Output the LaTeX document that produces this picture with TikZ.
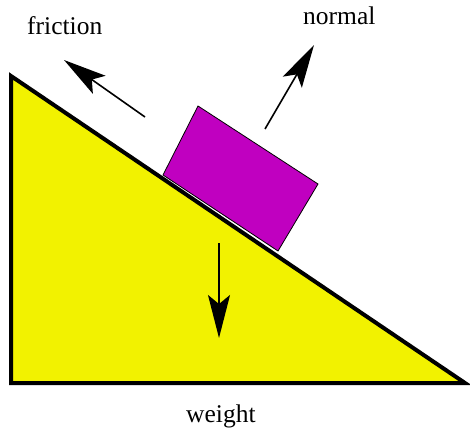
\documentclass[tikz,border=0pt]{standalone}
\usepackage{fontspec}
\setmainfont{Liberation Serif}
\usetikzlibrary{arrows.meta}
\definecolor{rampyellow}{RGB}{242,242,0}
\definecolor{blockmagenta}{RGB}{192,0,192}
\tikzset{
  ramp/.style={fill=rampyellow, draw=black, line width=4pt, line join=miter},
  block/.style={fill=blockmagenta, draw=black, line width=0.8pt},
  force/.style={draw=black, line width=1.6pt, -{Stealth[length=43pt, width=22pt, inset=9pt]}},
  lbl/.style={font=\fontsize{25.5}{30}\selectfont, inner sep=0pt, anchor=base west}
}
\begin{document}
\begin{tikzpicture}[x=1pt, y=-1pt]
\useasboundingbox (0,0) rectangle (470,430);
% ramp
\coordinate (rtop) at (11,76);
\coordinate (rbl) at (11,383);
\coordinate (rbr) at (465,383);
\draw[ramp] (rtop) -- (rbl) -- (rbr) -- cycle;
% block
\coordinate (ba) at (163,175);
\coordinate (bb) at (278,251);
\coordinate (bc) at (318,184);
\coordinate (bd) at (198,106);
\draw[block] (ba) -- (bb) -- (bc) -- (bd) -- cycle;
% forces
\coordinate (ft) at (145,117);
\coordinate (fh) at (64,60);
\draw[force] (ft) -- (fh);
\coordinate (nt) at (265,129);
\coordinate (nh) at (314,45);
\draw[force] (nt) -- (nh);
\coordinate (wt) at (219,243);
\coordinate (wh) at (219,338);
\draw[force] (wt) -- (wh);
% labels
\node[lbl] (friction) at (27,35) {friction};
\node[lbl] (normal) at (303,25) {normal};
\node[lbl] (weight) at (186,422) {weight};
\end{tikzpicture}
\end{document}
